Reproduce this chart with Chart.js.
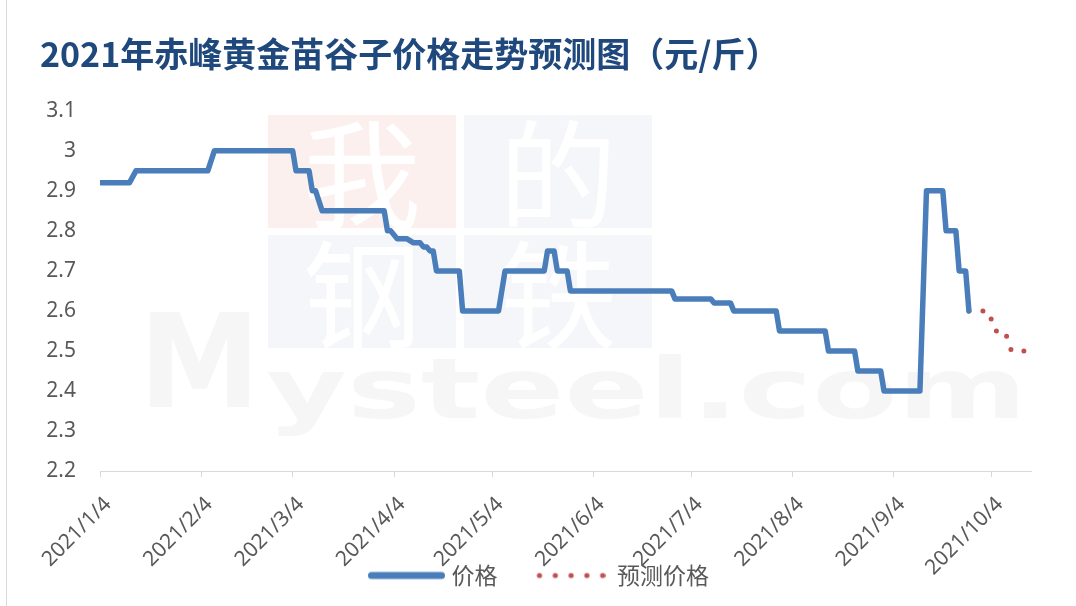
<!DOCTYPE html>
<html>
<head>
<meta charset="utf-8">
<script src="https://cdn.jsdelivr.net/npm/chart.js@4.4.1/dist/chart.umd.min.js"></script>
<style>
  html, body { margin: 0; padding: 0; background: #fff; }
  #wrap { position: relative; width: 1076px; height: 606px; }
</style>
</head>
<body>
<div id="wrap"><canvas id="priceChart"></canvas></div>
<script>
// data
const priceDates = [
  '2021-01-04', '2021-01-13', '2021-01-15', '2021-02-06', '2021-02-08',
  '2021-03-04', '2021-03-05', '2021-03-09', '2021-03-10', '2021-03-11',
  '2021-03-13', '2021-04-01', '2021-04-02', '2021-04-03', '2021-04-05',
  '2021-04-08', '2021-04-10', '2021-04-12', '2021-04-13', '2021-04-14',
  '2021-04-15', '2021-04-16', '2021-04-17', '2021-04-24', '2021-04-25',
  '2021-05-06', '2021-05-08', '2021-05-20', '2021-05-21', '2021-05-23',
  '2021-05-24', '2021-05-27', '2021-05-28', '2021-06-28', '2021-06-29',
  '2021-07-10', '2021-07-11', '2021-07-16', '2021-07-17', '2021-07-30',
  '2021-07-31', '2021-08-14', '2021-08-15', '2021-08-23', '2021-08-24',
  '2021-08-31', '2021-09-01', '2021-09-12', '2021-09-14', '2021-09-19',
  '2021-09-20', '2021-09-23', '2021-09-24', '2021-09-26', '2021-09-27'
]
const priceValues = [
  2.92, 2.92, 2.95, 2.95, 3.0,
  3.0, 2.95, 2.95, 2.9, 2.9,
  2.85, 2.85, 2.8, 2.8, 2.78,
  2.78, 2.77, 2.77, 2.76, 2.76,
  2.75, 2.75, 2.7, 2.7, 2.6,
  2.6, 2.7, 2.7, 2.75, 2.75,
  2.7, 2.7, 2.65, 2.65, 2.63,
  2.63, 2.62, 2.62, 2.6, 2.6,
  2.55, 2.55, 2.5, 2.5, 2.45,
  2.45, 2.4, 2.4, 2.9, 2.9,
  2.8, 2.8, 2.7, 2.7, 2.6
]
const forecastDates = ['2021-09-27', '2021-10-03', '2021-10-05', '2021-10-08', '2021-10-10', '2021-10-14']
const forecastValues = [2.6, 2.6, 2.55, 2.55, 2.5, 2.5]

const tickDates = [
  '2021-01-04', '2021-02-04', '2021-03-04', '2021-04-04', '2021-05-04',
  '2021-06-04', '2021-07-04', '2021-08-04', '2021-09-04', '2021-10-04'
]
const tickLabels = [
  '2021/1/4', '2021/2/4', '2021/3/4', '2021/4/4', '2021/5/4',
  '2021/6/4', '2021/7/4', '2021/8/4', '2021/9/4', '2021/10/4'
]
const axisStart = '2021-01-04'
const axisEnd = '2021-10-16'
const seriesNames = ['价格', '预测价格']
const titleText = '2021年赤峰黄金苗谷子价格走势预测图（元/斤）'

const BLUE = '#4a7ebb'
const RED = '#c0504d'
const GREY = '#595959'

// days since the first axis date, so a plain linear scale can be used
function dayOf(d) {
  return (Date.parse(d) - Date.parse(axisStart)) / 86400000
}
function toPoints(dates, values) {
  return dates.map((d, i) => ({ x: dayOf(d), y: values[i] }))
}

// legend samples (drawn as point-style images)
function legendLine() {
  const c = document.createElement('canvas')
  c.width = 90
  c.height = 10
  const g = c.getContext('2d')
  g.strokeStyle = BLUE
  g.lineWidth = 7
  g.lineCap = 'round'
  g.beginPath()
  g.moveTo(15.5, 5)
  g.lineTo(85.5, 5)
  g.stroke()
  return c
}
function legendDots() {
  const c = document.createElement('canvas')
  c.width = 78
  c.height = 10
  const g = c.getContext('2d')
  g.fillStyle = RED
  for (let i = 0; i < 5; i++) {
    g.beginPath()
    g.arc(12 + i * 15.8, 5, 2.6, 0, Math.PI * 2)
    g.fill()
  }
  return c
}

// faint site watermark + left frame line behind the chart
const backdrop = {
  id: 'backdrop',
  beforeDraw(chart) {
    const ctx = chart.ctx
    ctx.save()
    ctx.fillStyle = '#fff'
    ctx.fillRect(0, 0, chart.width, chart.height)

    const blocks = [
      ['我', 268, 115, '#fcf0ef'],
      ['的', 464, 115, '#f4f6fa'],
      ['钢', 268, 235, '#f4f6fa'],
      ['铁', 464, 235, '#f4f6fa'],
    ]
    ctx.textAlign = 'center'
    ctx.textBaseline = 'middle'
    ctx.font = '118px "Noto Sans CJK SC"'
    blocks.forEach(([ch, x, y, bg]) => {
      ctx.fillStyle = bg
      ctx.fillRect(x, y, 188, 113)
      ctx.fillStyle = '#fff'
      ctx.fillText(ch, x + 94, y + 60)
    })

    ctx.fillStyle = '#f6f6f6'
    ctx.textAlign = 'left'
    ctx.textBaseline = 'alphabetic'
    ctx.font = 'bold 130px "DejaVu Sans"'
    let w = ctx.measureText('M').width
    ctx.save()
    ctx.translate(139, 407)
    ctx.scale(121 / w, 1)
    ctx.fillText('M', 0, 0)
    ctx.restore()
    ctx.font = 'bold 84px "DejaVu Sans"'
    w = ctx.measureText('ysteel.com').width
    ctx.save()
    ctx.translate(266, 418)
    ctx.scale(761 / w, 1)
    ctx.fillText('ysteel.com', 0, 0)
    ctx.restore()

    ctx.strokeStyle = '#d9d9d9'
    ctx.lineWidth = 1
    ctx.beginPath()
    ctx.moveTo(6.5, 0)
    ctx.lineTo(6.5, chart.height)
    ctx.stroke()
    ctx.restore()
  },
  // the rotated date labels run down into the legend band, like the original;
  // stretch the x scale box so chart.js does not clip them
  afterLayout(chart) {
    chart.scales.x.bottom += 50
  },
}

new Chart(document.getElementById('priceChart'), {
  type: 'line',
  data: {
    datasets: [
      {
        label: seriesNames[0],
        data: toPoints(priceDates, priceValues),
        borderColor: BLUE,
        backgroundColor: BLUE,
        borderWidth: 5.5,
        borderJoinStyle: 'round',
        borderCapStyle: 'round',
        pointRadius: 0,
        pointStyle: legendLine(),
        tension: 0,
      },
      {
        label: seriesNames[1],
        data: toPoints(forecastDates, forecastValues),
        borderColor: RED,
        backgroundColor: RED,
        borderWidth: 5,
        borderDash: [0, 14],
        borderCapStyle: 'round',
        borderJoinStyle: 'round',
        pointRadius: 0,
        pointStyle: legendDots(),
        tension: 0,
      },
    ],
  },
  options: {
    responsive: true,
    maintainAspectRatio: false,
    animation: false,
    devicePixelRatio: 1,
    layout: { padding: { left: 40, right: 45, top: 0, bottom: 9 } },
    scales: {
      x: {
        type: 'linear',
        min: dayOf(axisStart),
        max: dayOf(axisEnd),
        afterBuildTicks: (scale) => {
          scale.ticks = tickDates.map((d) => ({ value: dayOf(d) }))
        },
        afterFit: (scale) => {
          scale.height = 63
        },
        ticks: {
          autoSkip: false,
          minRotation: 45,
          maxRotation: 45,
          padding: 15,
          labelOffset: 8,
          color: GREY,
          font: { family: 'Noto Sans', size: 21 },
          callback: (value) => {
            const i = tickDates.findIndex((d) => dayOf(d) === value)
            return i >= 0 ? tickLabels[i] : ''
          },
        },
        grid: {
          display: true,
          drawOnChartArea: false,
          drawTicks: true,
          tickLength: 6,
          color: '#d9d9d9',
        },
        border: { display: true, color: '#d9d9d9' },
      },
      y: {
        min: 2.2,
        max: 3.1,
        afterFit: (scale) => {
          scale.width = 60
        },
        ticks: {
          stepSize: 0.1,
          padding: 24,
          color: GREY,
          font: { family: 'Noto Sans', size: 21 },
          callback: (v) => String(Number(v.toFixed(1))),
        },
        grid: { display: false, drawTicks: false },
        border: { display: false },
      },
    },
    plugins: {
      title: {
        display: true,
        text: titleText,
        align: 'start',
        color: '#1f497d',
        font: { family: 'Noto Sans CJK SC', size: 34, weight: 'bold' },
        padding: { top: 34, bottom: 36 },
      },
      legend: {
        position: 'bottom',
        labels: {
          usePointStyle: true,
          pointStyleWidth: 78,
          padding: 30,
          color: GREY,
          font: { family: 'Noto Sans CJK SC', size: 23 },
        },
      },
      tooltip: { enabled: false },
    },
  },
  plugins: [backdrop],
})
</script>
</body>
</html>
